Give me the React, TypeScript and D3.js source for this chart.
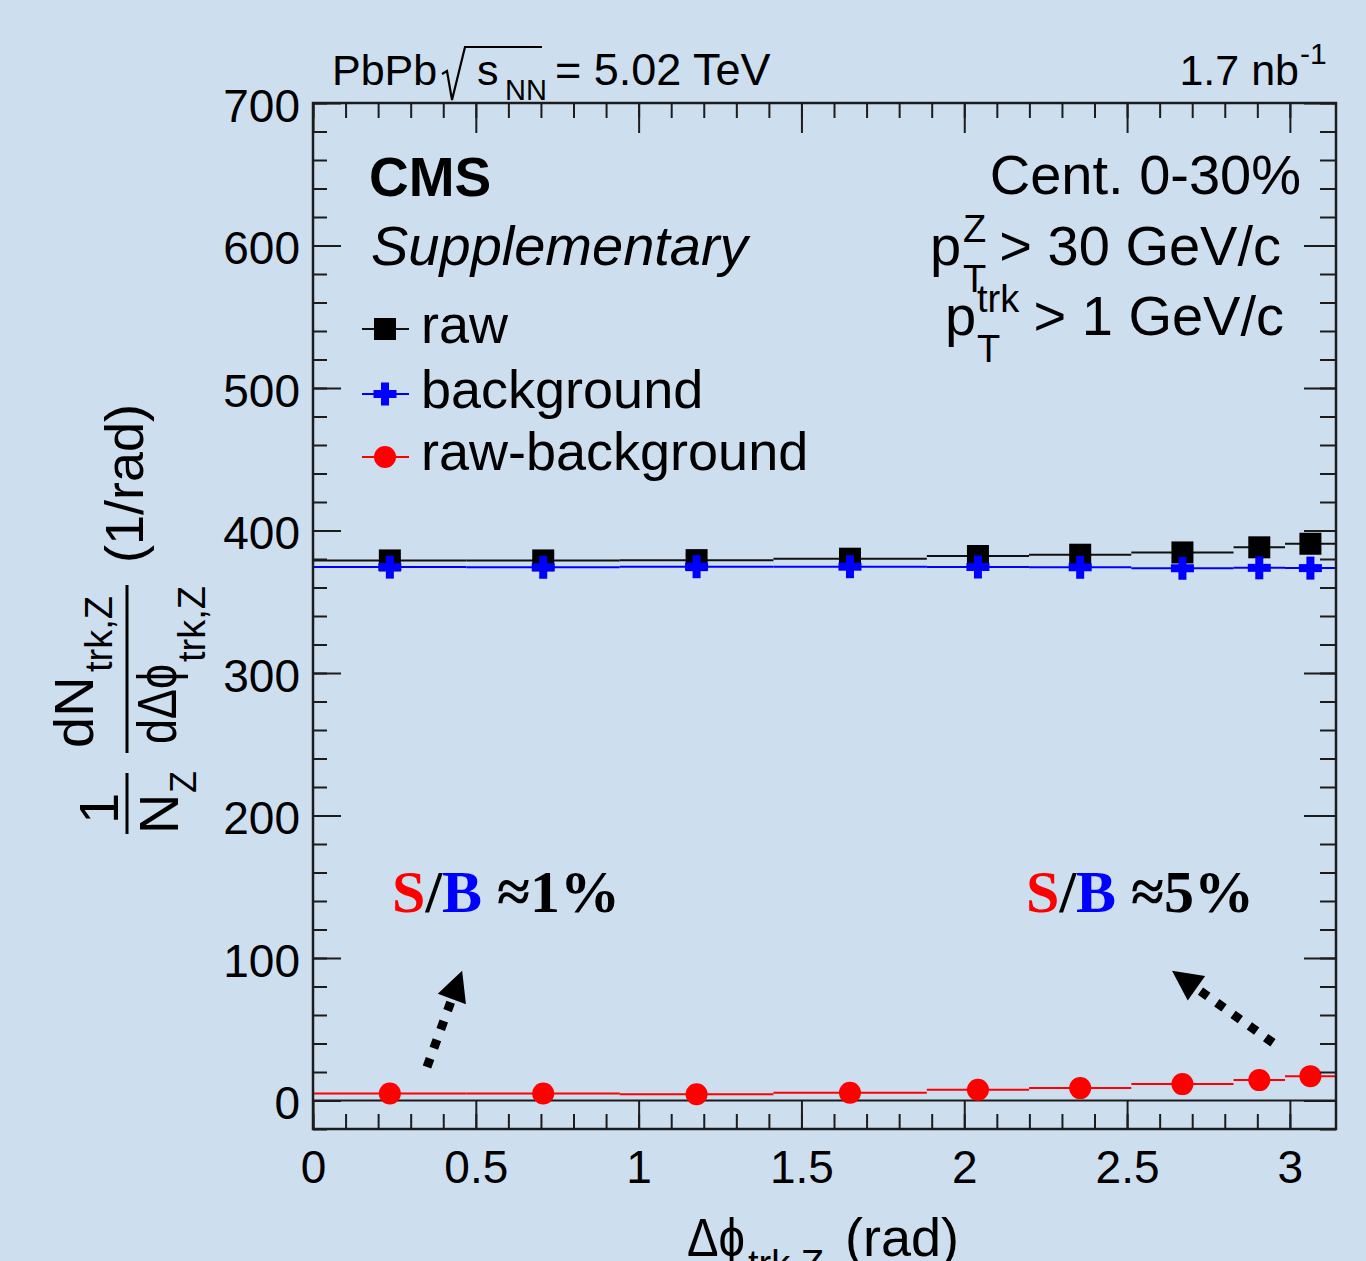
import React, { useRef, useEffect } from "react";
import * as d3 from "d3";

// bins in delta phi (rad)
const binEdges = [0, 0.471, 0.942, 1.414, 1.885, 2.199, 2.513, 2.827, 2.985, 3.142];
const binCenters = [0.236, 0.707, 1.178, 1.649, 2.042, 2.356, 2.67, 2.906, 3.063];

// 1/N_Z dN/dDphi values
const rawValues = [379.0, 379.0, 379.2, 380.2, 382.1, 383.0, 384.6, 388.2, 390.7];
const backgroundValues = [374.3, 374.2, 374.6, 374.6, 374.4, 374.2, 373.5, 373.8, 373.6];
const subtractedValues = [4.9, 4.9, 4.4, 5.4, 7.5, 8.7, 11.5, 14.3, 17.1];

const xMajorTicks = [0, 0.5, 1, 1.5, 2, 2.5, 3];
const yMajorTicks = [0, 100, 200, 300, 400, 500, 600, 700];

const legendLabels = ["raw", "background", "raw-background"];

const SANS = "'Liberation Sans', Arial, Helvetica, sans-serif";
const SERIF = "'Liberation Serif', 'Times New Roman', serif";
const BG = "#cddeef";
const FRAME = "#1c1c1c";

function Marker({ kind, cx, cy }: { kind: string; cx: number; cy: number }) {
  if (kind === "square") {
    return <rect x={cx - 11} y={cy - 11} width={22} height={22} fill="#000" />;
  }
  if (kind === "cross") {
    return (
      <g fill="#0000ff">
        <rect x={cx - 11.5} y={cy - 4} width={23} height={8} />
        <rect x={cx - 4} y={cy - 11.5} width={8} height={23} />
      </g>
    );
  }
  return <circle cx={cx} cy={cy} r={11} fill="#ff0000" />;
}

function Arrow({ x1, y1, x2, y2 }: { x1: number; y1: number; x2: number; y2: number }) {
  const dx = x2 - x1;
  const dy = y2 - y1;
  const len = Math.hypot(dx, dy);
  const ux = dx / len;
  const uy = dy / len;
  const headLen = 30;
  const half = 15;
  const bx = x2 - ux * headLen;
  const by = y2 - uy * headLen;
  const head = [
    [x2, y2],
    [bx - uy * half, by + ux * half],
    [bx + uy * half, by - ux * half],
  ];
  return (
    <g>
      <line x1={x1} y1={y1} x2={bx + ux * 2} y2={by + uy * 2} stroke="#000" strokeWidth={9} strokeDasharray="9 11" />
      <polygon points={head.map((p) => p.join(",")).join(" ")} fill="#000" />
    </g>
  );
}

export default function App() {
  const axesRef = useRef<SVGGElement>(null);

  const x = d3.scaleLinear().domain([0, Math.PI]).range([313, 1336]);
  const y = d3.scaleLinear().domain([-20, 700]).range([1129, 103]);
  const [x0, x1] = x.range();
  const [yb, yt] = y.range();

  useEffect(() => {
    const g = d3.select(axesRef.current);
    g.selectAll("*").remove();

    const xMinor = d3.range(0, 31).map((i) => i / 10);
    const yMinor = d3.range(0, 37).map((i) => -20 + i * 20);

    const style = (sel: any) => {
      sel.select(".domain").remove();
      sel.selectAll("line").attr("stroke", FRAME).attr("stroke-width", 2);
      sel.selectAll("text").attr("fill", "#000");
      sel.attr("font-family", SANS).attr("font-size", 46);
    };

    // bottom
    g.append("g").attr("transform", `translate(0,${yb})`)
      .call(d3.axisBottom(x).tickValues(xMajorTicks).tickSize(-29).tickPadding(21).tickFormat(d3.format("~g")) as any)
      .call(style);
    g.append("g").attr("transform", `translate(0,${yb})`)
      .call(d3.axisBottom(x).tickValues(xMinor).tickSize(-15).tickFormat(() => "") as any)
      .call(style);
    // top
    g.append("g").attr("transform", `translate(0,${yt})`)
      .call(d3.axisTop(x).tickValues(xMajorTicks).tickSize(-30).tickFormat(() => "") as any)
      .call(style);
    g.append("g").attr("transform", `translate(0,${yt})`)
      .call(d3.axisTop(x).tickValues(xMinor).tickSize(-15).tickFormat(() => "") as any)
      .call(style);
    // left
    const left = g.append("g").attr("transform", `translate(${x0},0)`)
      .call(d3.axisLeft(y).tickValues(yMajorTicks).tickSize(-28).tickPadding(13).tickFormat(d3.format("d")) as any)
      .call(style);
    left.selectAll("text").attr("dy", "0.4em");
    g.append("g").attr("transform", `translate(${x0},0)`)
      .call(d3.axisLeft(y).tickValues(yMinor).tickSize(-14).tickFormat(() => "") as any)
      .call(style);
    // right
    g.append("g").attr("transform", `translate(${x1},0)`)
      .call(d3.axisRight(y).tickValues(yMajorTicks).tickSize(-32).tickFormat(() => "") as any)
      .call(style);
    g.append("g").attr("transform", `translate(${x1},0)`)
      .call(d3.axisRight(y).tickValues(yMinor).tickSize(-16).tickFormat(() => "") as any)
      .call(style);
  }, []);

  const series = [
    { values: rawValues, color: "#111", marker: "square" },
    { values: backgroundValues, color: "#0000ff", marker: "cross" },
    { values: subtractedValues, color: "#ff0000", marker: "circle" },
  ];

  // legend order: raw, background, raw-background
  const legendItems = [
    { label: legendLabels[0], color: "#111", marker: "square", cy: 329, ty: 343 },
    { label: legendLabels[1], color: "#0000ff", marker: "cross", cy: 394, ty: 408 },
    { label: legendLabels[2], color: "#ff0000", marker: "circle", cy: 457, ty: 470 },
  ];

  return (
    <div style={{ position: "absolute", left: 0, top: 0, width: 1366, height: 1261, overflow: "hidden" }}>
      <style>{`body{margin:0}`}</style>
      <svg width={1366} height={1261} style={{ display: "block", background: BG }}>
        <rect x={0} y={0} width={1366} height={1261} fill={BG} />

        {/* zero line */}
        <line x1={x0} x2={x1} y1={y(0)} y2={y(0)} stroke={FRAME} strokeWidth={2} />

        {/* x error bars (bin widths) */}
        {series.map((s, si) => (
          <g key={"l" + si}>
            {s.values.map((v, i) => (
              <line
                key={i}
                x1={x(binEdges[i])}
                x2={x(binEdges[i + 1])}
                y1={y(v)}
                y2={y(v)}
                stroke={s.color}
                strokeWidth={2}
              />
            ))}
          </g>
        ))}

        {/* markers */}
        {series.map((s, si) => (
          <g key={"m" + si}>
            {s.values.map((v, i) => (
              <Marker key={i} kind={s.marker} cx={x(binCenters[i])} cy={y(v)} />
            ))}
          </g>
        ))}

        {/* frame */}
        <rect x={x0} y={yt} width={x1 - x0} height={yb - yt} fill="none" stroke={FRAME} strokeWidth={2.5} />
        <g ref={axesRef} />

        {/* top labels */}
        <g fontFamily={SANS} fill="#000">
          <text x={332} y={85} fontSize={43}>PbPb</text>
          <path d="M442,74 L447,71 L452,100 L465,47 L542,47" fill="none" stroke="#000" strokeWidth={2.2} />
          <text x={477} y={85} fontSize={43}>s</text>
          <text x={505} y={100} fontSize={29}>NN</text>
          <text x={555} y={85} fontSize={45}>= 5.02 TeV</text>

          <text x={1299} y={85} fontSize={43} textAnchor="end">1.7 nb</text>
          <text x={1300} y={64} fontSize={30}>-1</text>
        </g>

        {/* CMS labels */}
        <g fontFamily={SANS} fill="#000">
          <text x={369} y={196} fontSize={55} fontWeight="bold">CMS</text>
          <text x={371} y={265} fontSize={56} fontStyle="italic">Supplementary</text>
        </g>

        {/* right-side selection text */}
        <g fontFamily={SANS} fill="#000">
          <text x={1301} y={194} fontSize={56} textAnchor="end">Cent. 0-30%</text>
          <text x={930} y={265} fontSize={56}>p</text>
          <text x={963} y={242} fontSize={38}>Z</text>
          <text x={963} y={292} fontSize={38}>T</text>
          <text x={1281} y={265} fontSize={56} textAnchor="end">&gt; 30 GeV/c</text>
          <text x={945} y={335} fontSize={56}>p</text>
          <text x={977} y={312} fontSize={38}>trk</text>
          <text x={977} y={362} fontSize={38}>T</text>
          <text x={1284} y={335} fontSize={56} textAnchor="end">&gt; 1 GeV/c</text>
        </g>

        {/* legend */}
        <g fontFamily={SANS} fill="#000">
          {legendItems.map((it) => (
            <g key={it.label}>
              <line x1={362} x2={409} y1={it.cy} y2={it.cy} stroke={it.color} strokeWidth={2} />
              <Marker kind={it.marker} cx={385} cy={it.cy} />
              <text x={421} y={it.ty} fontSize={54}>{it.label}</text>
            </g>
          ))}
        </g>

        {/* S/B annotations */}
        <g fontFamily={SERIF} fontWeight="bold" fontSize={60}>
          <text x={392} y={912}>
            <tspan fill="#ff0000">S</tspan>
            <tspan fill="#000">/</tspan>
            <tspan fill="#0000ff">B</tspan>
            <tspan fill="#000"> ≈1%</tspan>
          </text>
          <text x={1026} y={912}>
            <tspan fill="#ff0000">S</tspan>
            <tspan fill="#000">/</tspan>
            <tspan fill="#0000ff">B</tspan>
            <tspan fill="#000"> ≈5%</tspan>
          </text>
        </g>
        <Arrow x1={x(0.35)} y1={y(23.5)} x2={x(0.458)} y2={y(91)} />
        <Arrow x1={x(2.948)} y1={y(40.5)} x2={x(2.638)} y2={y(91)} />

        {/* x-axis title */}
        <g fontFamily={SANS} fill="#000">
          <text x={687} y={1256} fontSize={54} textLength={58} lengthAdjust="spacingAndGlyphs">Δϕ</text>
          <text x={748} y={1277} fontSize={38}>trk,Z</text>
          <text x={845} y={1256} fontSize={54}>(rad)</text>
        </g>

        {/* y-axis title (rotated) */}
        <g fontFamily={SANS} fill="#000">
          <text transform="translate(118,824) rotate(-90)" fontSize={56}>1</text>
          <line x1={127} x2={127} y1={773} y2={834} stroke="#000" strokeWidth={3} />
          <text transform="translate(178,834) rotate(-90)" fontSize={56}>N</text>
          <text transform="translate(196,793) rotate(-90)" fontSize={36}>Z</text>

          <text transform="translate(93,748) rotate(-90)" fontSize={56}>dN</text>
          <text transform="translate(112,672) rotate(-90)" fontSize={38}>trk,Z</text>
          <line x1={127} x2={127} y1={585} y2={753} stroke="#000" strokeWidth={3} />
          <text transform="translate(176,744) rotate(-90)" fontSize={56} textLength={80} lengthAdjust="spacingAndGlyphs">dΔϕ</text>
          <text transform="translate(205,662) rotate(-90)" fontSize={38}>trk,Z</text>

          <text transform="translate(143,563) rotate(-90)" fontSize={54}>(1/rad)</text>
        </g>
      </svg>
    </div>
  );
}
